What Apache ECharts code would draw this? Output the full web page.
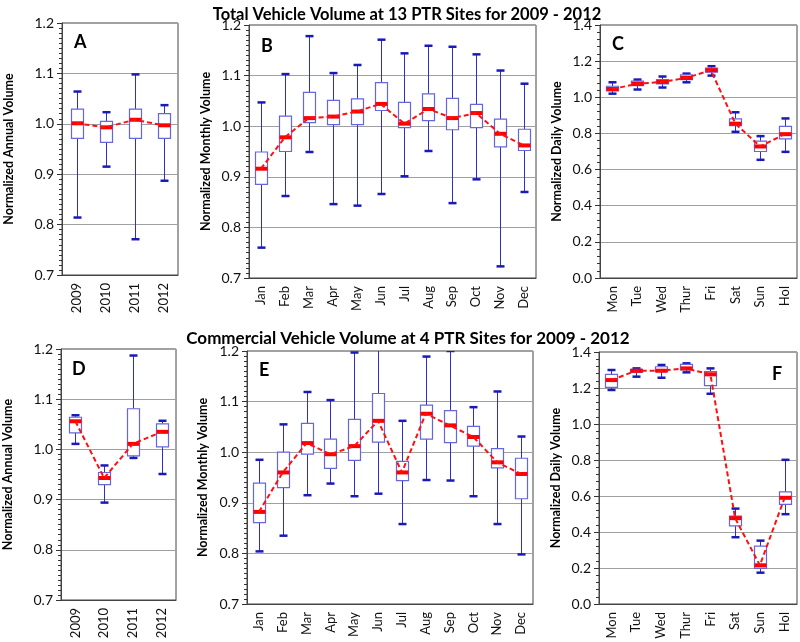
<!DOCTYPE html>
<html><head><meta charset="utf-8">
<script src="https://cdn.jsdelivr.net/npm/echarts@6/dist/echarts.min.js"></script>
<style>html,body{margin:0;padding:0;background:#fff}#c{width:800px;height:642px}</style>
</head><body><div id="c"></div>
<script>
// categories
const years = ['2009','2010','2011','2012'];
const months = ['Jan','Feb','Mar','Apr','May','Jun','Jul','Aug','Sep','Oct','Nov','Dec'];
const days = ['Mon','Tue','Wed','Thur','Fri','Sat','Sun','Hol'];

// box rows: [low, q1, median, q3, high]
const totalYear = [
  [0.814,0.971,1.001,1.029,1.064],
  [0.915,0.963,0.993,1.005,1.023],
  [0.771,0.971,1.008,1.029,1.098],
  [0.887,0.971,0.997,1.020,1.037]
];
const totalMonth = [
  [0.760,0.885,0.916,0.949,1.047],
  [0.862,0.950,0.978,1.020,1.103],
  [0.949,1.007,1.016,1.067,1.178],
  [0.846,1.003,1.019,1.051,1.105],
  [0.843,1.003,1.029,1.054,1.121],
  [0.866,1.031,1.044,1.086,1.171],
  [0.901,0.997,1.005,1.047,1.144],
  [0.951,1.011,1.034,1.064,1.159],
  [0.848,0.993,1.016,1.055,1.157],
  [0.895,0.997,1.026,1.043,1.142],
  [0.723,0.959,0.985,1.014,1.110],
  [0.870,0.952,0.962,0.994,1.084]
];
const totalDay = [
  [1.020,1.035,1.046,1.061,1.083],
  [1.043,1.065,1.074,1.089,1.098],
  [1.054,1.074,1.085,1.098,1.115],
  [1.083,1.098,1.107,1.124,1.131],
  [1.120,1.139,1.150,1.161,1.172],
  [0.809,0.843,0.854,0.881,0.917],
  [0.654,0.700,0.728,0.757,0.785],
  [0.698,0.770,0.796,0.839,0.883]
];
const commYear = [
  [1.011,1.033,1.056,1.064,1.068],
  [0.894,0.930,0.943,0.954,0.968],
  [0.983,0.987,1.011,1.081,1.187],
  [0.951,1.005,1.035,1.051,1.057]
];
const commMonth = [
  [0.804,0.861,0.882,0.939,0.985],
  [0.835,0.930,0.960,1.000,1.055],
  [0.915,0.996,1.018,1.057,1.119],
  [0.938,0.968,0.996,1.026,1.103],
  [0.913,0.984,1.012,1.065,1.197],
  [0.918,1.020,1.062,1.116,1.230],
  [0.858,0.944,0.960,0.982,1.062],
  [0.945,1.026,1.076,1.093,1.189],
  [0.944,1.019,1.053,1.082,1.200],
  [0.913,1.012,1.030,1.051,1.089],
  [0.858,0.969,0.980,1.007,1.120],
  [0.798,0.908,0.957,0.988,1.031]
];
const commDay = [
  [1.189,1.203,1.244,1.276,1.300],
  [1.263,1.287,1.296,1.304,1.309],
  [1.257,1.291,1.296,1.318,1.328],
  [1.287,1.300,1.309,1.331,1.337],
  [1.168,1.213,1.276,1.291,1.309],
  [0.371,0.434,0.477,0.488,0.530],
  [0.174,0.198,0.215,0.321,0.352],
  [0.499,0.553,0.590,0.623,0.801]
];

const FONT = 'Lato, "Open Sans", sans-serif';
const panels = [
  {cats:years, rows:totalYear, min:0.7, max:1.2, step:0.1, minor:10, name:'Normalized Annual Volume', gap:47, letter:'A',
   grid:{left:62, top:23, width:116, height:252}, lx:74, ly:33},
  {cats:months, rows:totalMonth, min:0.7, max:1.2, step:0.1, minor:10, name:'Normalized Monthly Volume', gap:37, letter:'B',
   grid:{left:249, top:25, width:287, height:253}, lx:261, ly:37},
  {cats:days, rows:totalDay, min:0, max:1.4, step:0.2, minor:5, name:'Normalized Daily Volume', gap:37, letter:'C',
   grid:{left:600, top:25, width:197, height:253}, lx:612, ly:35},
  {cats:years, rows:commYear, min:0.7, max:1.2, step:0.1, minor:10, name:'Normalized Annual Volume', gap:47, letter:'D',
   grid:{left:60, top:349, width:116, height:251}, lx:72, ly:360},
  {cats:months, rows:commMonth, min:0.7, max:1.2, step:0.1, minor:10, name:'Normalized Monthly Volume', gap:38, letter:'E',
   grid:{left:247, top:351, width:286, height:253}, lx:259, ly:361},
  {cats:days, rows:commDay, min:0, max:1.4, step:0.2, minor:5, name:'Normalized Daily Volume', gap:37, letter:'F',
   grid:{left:599, top:352, width:198, height:252}, lx:772, ly:365}
];

function renderBox(params, api) {
  const x = api.value(0);
  const lo = api.coord([x, api.value(1)]);
  const q1 = api.coord([x, api.value(2)]);
  const md = api.coord([x, api.value(3)]);
  const q3 = api.coord([x, api.value(4)]);
  const hi = api.coord([x, api.value(5)]);
  const cx = Math.round(lo[0]) + 0.5;
  const bw = 12, cw = 8, mw = 12;
  const wc = '#2e2ecc', cc = '#1a1ab8', bc = '#6666de';
  return {type:'group', children:[
    {type:'line', shape:{x1:cx,y1:hi[1],x2:cx,y2:q3[1]}, style:{stroke:wc, lineWidth:1}},
    {type:'line', shape:{x1:cx,y1:q1[1],x2:cx,y2:lo[1]}, style:{stroke:wc, lineWidth:1}},
    {type:'line', shape:{x1:cx-cw/2,y1:hi[1],x2:cx+cw/2,y2:hi[1]}, style:{stroke:cc, lineWidth:2.5}},
    {type:'line', shape:{x1:cx-cw/2,y1:lo[1],x2:cx+cw/2,y2:lo[1]}, style:{stroke:cc, lineWidth:2.5}},
    {type:'rect', shape:{x:cx-bw/2,y:q3[1],width:bw,height:q1[1]-q3[1]}, style:{fill:'#fff', stroke:bc, lineWidth:1.2}},
    {type:'rect', shape:{x:cx-mw/2,y:md[1]-2,width:mw,height:4}, style:{fill:'#ff0000'}}
  ]};
}

const option = {
  animation:false,
  backgroundColor:'#fff',
  title:[
    {text:'Total Vehicle Volume at 13 PTR Sites for 2009 - 2012', left:402, top:1, textAlign:'center',
     textStyle:{fontFamily:FONT, fontWeight:'bold', fontSize:16.5, color:'#000'}},
    {text:'Commercial Vehicle Volume at 4 PTR Sites for 2009 - 2012', left:403, top:325, textAlign:'center',
     textStyle:{fontFamily:FONT, fontWeight:'bold', fontSize:17, color:'#000'}}
  ],
  grid:[], xAxis:[], yAxis:[], series:[], graphic:[]
};

panels.forEach((p, i) => {
  option.grid.push(Object.assign({show:true, borderColor:'#444', borderWidth:1, backgroundColor:'#fff'}, p.grid));
  option.xAxis.push({type:'category', gridIndex:i, data:p.cats,
    axisLine:{lineStyle:{color:'#444'}}, axisTick:{show:false},
    axisLabel:{rotate:90, fontFamily:FONT, fontSize:13, color:'#111', margin:8}});
  option.yAxis.push({type:'value', gridIndex:i, min:p.min, max:p.max, interval:p.step,
    name:p.name, nameLocation:'middle', nameGap:p.gap,
    nameTextStyle:{fontFamily:FONT, fontWeight:'bold', fontSize:12.5, color:'#000'},
    axisLine:{show:true, lineStyle:{color:'#444'}},
    axisTick:{show:true, inside:false, length:5, lineStyle:{color:'#333'}},
    minorTick:{show:true, splitNumber:p.minor, length:3, lineStyle:{color:'#333', width:1}},
    minorSplitLine:{show:false},
    splitLine:{show:true, lineStyle:{color:'#a0a0a0', width:1}},
    axisLabel:{fontFamily:FONT, fontSize:14, color:'#111', margin:8, formatter:v => v.toFixed(1)}});
  option.series.push({type:'custom', xAxisIndex:i, yAxisIndex:i, clip:true, renderItem:renderBox,
    encode:{x:0, y:[1,2,3,4,5]},
    data:p.rows.map((r, k) => [k].concat(r)), z:2});
  option.series.push({type:'line', xAxisIndex:i, yAxisIndex:i, data:p.rows.map(r => r[2]),
    symbol:'none', lineStyle:{color:'#ff1010', width:2, type:[5,3]}, z:3});
  option.graphic.push({type:'text', left:p.lx, top:p.ly, z:10,
    style:{text:p.letter, fontFamily:FONT, fontWeight:'bold', fontSize:18, fill:'#000'}});
});

const chart = echarts.init(document.getElementById('c'), null, {renderer:'canvas'});
chart.setOption(option);
</script></body></html>
